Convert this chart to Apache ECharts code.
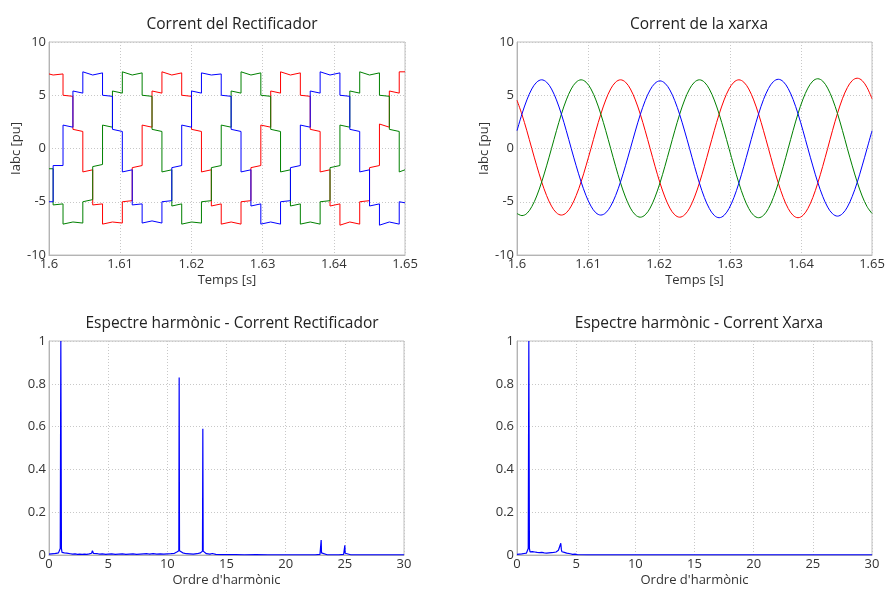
<!DOCTYPE html>
<html>
<head>
<meta charset="utf-8">
<script src="https://cdn.jsdelivr.net/npm/echarts@6/dist/echarts.min.js"></script>
<style>
  html, body { margin: 0; padding: 0; background: #fff; }
  #main { width: 888px; height: 592px; }
</style>
</head>
<body>
<div id="main"></div>
<script>
// rectifier current: switching instants (s) and [start, end] value of each 30 deg step
const rectEdges = [1.6, 1.60058, 1.60197, 1.60336, 1.60475, 1.60614, 1.60752, 1.60891, 1.61030, 1.61169,
  1.61308, 1.61447, 1.61586, 1.61725, 1.61864, 1.62002, 1.62141, 1.62280, 1.62419, 1.62558, 1.62697,
  1.62836, 1.62975, 1.63114, 1.63252, 1.63391, 1.63530, 1.63669, 1.63808, 1.63947, 1.64086, 1.64225,
  1.64364, 1.64502, 1.64641, 1.64780, 1.64919, 1.65];

const rectRed = [[7.0, 6.9], [6.9, 7.0], [5.0, 4.9], [1.8, 1.6], [-2.2, -2.0], [-5.3, -5.2], [-7.1, -6.9],
  [-6.9, -7.0], [-5.0, -4.9], [-1.8, -1.6], [2.2, 2.0], [5.4, 5.2], [7.2, 6.9], [6.9, 7.1], [5.0, 4.9],
  [1.8, 1.6], [-2.2, -2.0], [-5.4, -5.2], [-7.1, -6.9], [-6.9, -7.1], [-5.0, -4.9], [-1.8, -1.6],
  [2.2, 2.0], [5.4, 5.2], [7.2, 6.9], [6.9, 7.1], [5.0, 4.9], [1.8, 1.6], [-2.2, -2.0], [-5.4, -5.2],
  [-7.2, -6.9], [-6.9, -7.1], [-5.0, -4.9], [-1.8, -1.6], [2.3, 2.0], [5.4, 5.2], [7.2, 7.2]];

const rectGreen = [[-1.9, -1.9], [-5.3, -5.2], [-7.1, -6.9], [-6.9, -7.0], [-5.0, -4.8], [-1.7, -1.5],
  [2.2, 2.0], [5.4, 5.2], [7.2, 6.9], [6.9, 7.1], [5.0, 4.9], [1.8, 1.6], [-2.2, -2.0], [-5.4, -5.2],
  [-7.1, -6.9], [-6.9, -7.0], [-5.0, -4.9], [-1.8, -1.6], [2.2, 2.0], [5.4, 5.2], [7.2, 6.9], [6.9, 7.1],
  [5.0, 4.9], [1.8, 1.6], [-2.2, -2.0], [-5.4, -5.2], [-7.1, -6.9], [-6.9, -7.1], [-5.0, -4.9],
  [-1.8, -1.6], [2.2, 2.0], [5.4, 5.2], [7.2, 6.9], [6.9, 7.1], [5.0, 4.9], [1.8, 1.6], [-2.2, -2.0]];

const rectBlue = [[-5.0, -5.0], [-1.6, -1.6], [2.2, 2.0], [5.4, 5.2], [7.2, 6.9], [6.9, 7.1], [5.0, 4.9],
  [1.8, 1.6], [-2.2, -2.0], [-5.3, -5.2], [-7.0, -6.8], [-6.8, -7.0], [-5.0, -4.9], [-1.8, -1.6],
  [2.2, 2.0], [5.4, 5.2], [7.1, 6.9], [6.9, 7.0], [5.0, 4.9], [1.8, 1.6], [-2.2, -2.0], [-5.4, -5.2],
  [-7.1, -6.9], [-6.9, -7.1], [-5.0, -4.9], [-1.8, -1.6], [2.2, 2.0], [5.4, 5.2], [7.2, 6.9], [6.9, 7.1],
  [5.0, 4.9], [1.8, 1.6], [-2.2, -2.0], [-5.4, -5.2], [-7.2, -6.9], [-6.9, -7.1], [-5.0, -5.1]];

// grid current, sampled every 1/24 of a 60 Hz cycle from t = 1.6 s
const gridStep = 1 / 1440;
const gridRed = [4.53, 3.20, 1.66, 0,
  -1.62, -3.13, -4.42, -5.41, -6.04, -6.25, -6.04, -5.41, -4.42, -3.13, -1.62, 0,
  1.67, 3.23, 4.56, 5.59, 6.23, 6.45, 6.23, 5.59, 4.56, 3.23, 1.67, 0,
  -1.67, -3.23, -4.56, -5.59, -6.23, -6.45, -6.23, -5.59, -4.56, -3.23, -1.67, 0,
  1.67, 3.23, 4.56, 5.59, 6.23, 6.45, 6.23, 5.59, 4.56, 3.23, 1.67, 0,
  -1.68, -3.25, -4.60, -5.63, -6.28, -6.50, -6.28, -5.63, -4.60, -3.25, -1.68, 0,
  1.71, 3.30, 4.67, 5.72, 6.38, 6.60, 6.38, 5.72, 4.67];
const gridGreen = [-6.10, -6.30, -6.10, -5.46, -4.46, -3.15, -1.63, 0,
  1.67, 3.23, 4.56, 5.59, 6.23, 6.45, 6.23, 5.59, 4.56, 3.23, 1.67, 0,
  -1.67, -3.23, -4.56, -5.59, -6.23, -6.45, -6.23, -5.59, -4.56, -3.23, -1.67, 0,
  1.67, 3.23, 4.56, 5.59, 6.23, 6.45, 6.23, 5.59, 4.56, 3.23, 1.67, 0,
  -1.68, -3.25, -4.60, -5.63, -6.28, -6.50, -6.28, -5.63, -4.60, -3.25, -1.68, 0,
  1.70, 3.28, 4.63, 5.67, 6.33, 6.55, 6.33, 5.67, 4.63, 3.28, 1.70, 0,
  -1.63, -3.15, -4.46, -5.46, -6.10];
const gridBlue = [1.67, 3.23, 4.56, 5.59, 6.23, 6.45, 6.23, 5.59, 4.56, 3.23, 1.67, 0,
  -1.62, -3.13, -4.42, -5.41, -6.04, -6.25, -6.04, -5.41, -4.42, -3.13, -1.62, 0,
  1.64, 3.18, 4.49, 5.50, 6.13, 6.35, 6.13, 5.50, 4.49, 3.18, 1.64, 0,
  -1.68, -3.25, -4.60, -5.63, -6.28, -6.50, -6.28, -5.63, -4.60, -3.25, -1.68, 0,
  1.68, 3.25, 4.60, 5.63, 6.28, 6.50, 6.28, 5.63, 4.60, 3.25, 1.68, 0,
  -1.64, -3.18, -4.49, -5.50, -6.13, -6.35, -6.13, -5.50, -4.49, -3.18, -1.64, 0,
  1.66];

// harmonic spectra (order, normalised magnitude)
const rectOrder = [0, 0.1, 0.2, 0.3, 0.4, 0.5, 0.6, 0.7, 0.8, 0.9, 0.95, 1.0, 1.05, 1.1, 1.2, 1.3, 1.4, 1.5, 1.6,
  1.8, 2.0, 2.2, 2.4, 2.6, 2.8, 3.0, 3.2, 3.4, 3.6, 3.67, 3.75, 3.9, 4.1, 4.3, 4.5, 4.8, 5.0, 5.3, 5.6, 5.9,
  6.2, 6.5, 6.8, 7.1, 7.4, 7.7, 8.0, 8.3, 8.5, 8.8, 9.1, 9.4, 9.7, 10.0, 10.3, 10.6, 10.8, 10.9, 10.97,
  11.0, 11.03, 11.1, 11.3, 11.6, 11.9, 12.2, 12.5, 12.8, 12.9, 12.97, 13.0, 13.03, 13.1, 13.3, 13.6, 13.8,
  14.1, 14.5, 15.0, 15.6, 15.7, 15.8, 16.5, 17.5, 18.5, 19.5, 20.5, 21.5, 22.5, 22.9, 22.97, 23.0, 23.03,
  23.1, 23.5, 24.5, 24.9, 24.97, 25.0, 25.03, 25.1, 25.5, 27, 28.5, 30];
const rectMag = [0.004, 0.006, 0.005, 0.008, 0.006, 0.009, 0.008, 0.012, 0.010, 0.018, 0.03, 1.0, 0.03, 0.012,
  0.008, 0.010, 0.006, 0.009, 0.005, 0.006, 0.004, 0.005, 0.003, 0.004, 0.003, 0.004, 0.003, 0.005, 0.008,
  0.02, 0.008, 0.005, 0.006, 0.004, 0.005, 0.003, 0.004, 0.005, 0.003, 0.004, 0.005, 0.003, 0.004, 0.005,
  0.003, 0.004, 0.005, 0.006, 0.004, 0.006, 0.004, 0.005, 0.004, 0.005, 0.006, 0.008, 0.014, 0.02, 0.02,
  0.83, 0.02, 0.018, 0.010, 0.006, 0.005, 0.004, 0.006, 0.010, 0.016, 0.018, 0.59, 0.018, 0.012, 0.006,
  0.004, 0.007, 0.003, 0.002, 0.002, 0.002, 0.005, 0.002, 0.001, 0.002, 0.001, 0.001, 0.001, 0.001, 0.001,
  0.003, 0.01, 0.07, 0.01, 0.003, 0.001, 0.001, 0.003, 0.008, 0.045, 0.008, 0.003, 0.001, 0.001, 0.001, 0.001];

const gridOrder = [0, 0.1, 0.2, 0.3, 0.4, 0.5, 0.6, 0.7, 0.8, 0.9, 0.95, 1.0, 1.05, 1.1, 1.2, 1.3, 1.4, 1.5,
  1.6, 1.7, 1.8, 1.9, 2.0, 2.1, 2.2, 2.3, 2.4, 2.5, 2.6, 2.7, 2.8, 2.9, 3.0, 3.1, 3.2, 3.3, 3.4, 3.5, 3.6,
  3.65, 3.7, 3.75, 3.8, 3.9, 4.0, 4.1, 4.2, 4.3, 4.5, 4.7, 4.9, 5.1, 6, 8, 10, 15, 20, 25, 30];
const gridMag = [0.003, 0.005, 0.004, 0.008, 0.005, 0.010, 0.007, 0.012, 0.009, 0.018, 0.03, 1.0, 0.03, 0.015,
  0.010, 0.016, 0.008, 0.014, 0.007, 0.012, 0.006, 0.011, 0.007, 0.012, 0.006, 0.010, 0.005, 0.009, 0.006,
  0.010, 0.007, 0.011, 0.008, 0.012, 0.009, 0.014, 0.012, 0.022, 0.015, 0.03, 0.055, 0.025, 0.015, 0.010,
  0.012, 0.007, 0.009, 0.005, 0.006, 0.003, 0.004, 0.002, 0.001, 0.001, 0.001, 0.001, 0.001, 0.001, 0.001];

const titles = ['Corrent del Rectificador', 'Corrent de la xarxa',
  'Espectre harmònic - Corrent Rectificador', 'Espectre harmònic - Corrent Xarxa'];

function steps(pairs) {
  const pts = [];
  pairs.forEach((p, i) => {
    pts.push([rectEdges[i], p[0]], [rectEdges[i + 1], p[1]]);
  });
  return pts;
}
function sampled(vals) {
  return vals.map((v, i) => [1.6 + i * gridStep, v]);
}
function zip(xs, ys) {
  return xs.map((x, i) => [x, ys[i]]);
}

const FONT = 'Open Sans';
const grids = [
  { left: 49, top: 42, width: 356, height: 213 },
  { left: 517, top: 42, width: 355, height: 213 },
  { left: 49, top: 341, width: 355, height: 214 },
  { left: 517, top: 341, width: 355, height: 214 }
];
const titleX = [227, 694, 227, 694];
const titleY = [12, 12, 311, 311];

function axisBase() {
  return {
    type: 'value',
    axisLine: { show: true, onZero: false, lineStyle: { color: '#b4b4b4', width: 1 } },
    axisTick: { show: false },
    splitLine: { show: true, lineStyle: { color: '#c8c8c8', type: [1, 2], width: 1 } },
    axisLabel: { color: '#333', fontSize: 13, fontFamily: FONT },
    nameTextStyle: { color: '#333', fontSize: 13, fontFamily: FONT }
  };
}

const xAxes = [], yAxes = [];
for (let i = 0; i < 4; i++) {
  const top = i < 2;
  xAxes.push(Object.assign(axisBase(), {
    gridIndex: i,
    min: top ? 1.6 : 0,
    max: top ? 1.65 : 30,
    interval: top ? 0.01 : 5,
    name: top ? 'Temps [s]' : "Ordre d'harmònic",
    nameLocation: 'middle',
    nameGap: 19,
    axisLabel: {
      color: '#333', fontSize: 13, fontFamily: FONT, margin: 3,
      formatter: v => String(+v.toFixed(2))
    }
  }));
  yAxes.push(Object.assign(axisBase(), {
    gridIndex: i,
    min: top ? -10 : 0,
    max: top ? 10 : 1,
    interval: top ? 5 : 0.2,
    name: top ? 'Iabc [pu]' : '',
    nameLocation: 'middle',
    nameRotate: 90,
    nameGap: 24,
    axisLabel: {
      color: '#333', fontSize: 13, fontFamily: FONT, margin: 3,
      formatter: v => String(+v.toFixed(1))
    }
  }));
}

function line(idx, data, color, w) {
  return {
    type: 'line', xAxisIndex: idx, yAxisIndex: idx, data: data,
    showSymbol: false, symbol: 'none', animation: false,
    lineStyle: { color: color, width: w || 1 }, clip: true
  };
}

const echart = echarts.init(document.getElementById('main'));
const option = {
  backgroundColor: '#fff',
  animation: false,
  title: titles.map((t, i) => ({
    text: t, left: titleX[i], top: titleY[i], textAlign: 'center',
    textStyle: { fontSize: 15.5, fontWeight: 'normal', color: '#222', fontFamily: FONT }
  })),
  grid: grids.map(g => Object.assign({ show: true, borderColor: '#c0c0c0', borderWidth: 1, backgroundColor: '#fff' }, g)),
  xAxis: xAxes,
  yAxis: yAxes,
  series: [
    line(0, steps(rectRed), '#ff0000'),
    line(0, steps(rectGreen), '#008000'),
    line(0, steps(rectBlue), '#0000ff'),
    Object.assign(line(1, sampled(gridRed), '#ff0000'), { smooth: 0.35 }),
    Object.assign(line(1, sampled(gridGreen), '#008000'), { smooth: 0.35 }),
    Object.assign(line(1, sampled(gridBlue), '#0000ff'), { smooth: 0.35 }),
    line(2, zip(rectOrder, rectMag), '#0000ff', 1.2),
    line(3, zip(gridOrder, gridMag), '#0000ff', 1.2)
  ]
};
echart.setOption(option);
</script>
</body>
</html>
